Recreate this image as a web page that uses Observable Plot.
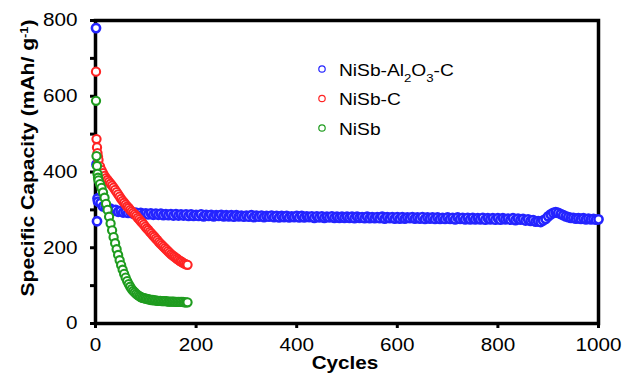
<!DOCTYPE html>
<html>
<head>
<meta charset="utf-8">
<script src="https://cdn.jsdelivr.net/npm/d3@7"></script>
<script src="https://cdn.jsdelivr.net/npm/@observablehq/plot@0.6"></script>
<style>
  html, body { margin: 0; padding: 0; background: white; }
  #chart { width: 627px; height: 374px; }
</style>
</head>
<body>
<div id="chart"></div>
<script>
// ---- tick labels ----
const xTicks = [0, 200, 400, 600, 800, 1000];
const yTicks = [0, 200, 400, 600, 800];
const yMinorTicks = [100, 300, 500, 700];

// ---- series names ----
const seriesNames = ["NiSb-Al2O3-C", "NiSb-C", "NiSb"];

// ---- NiSb-Al2O3-C (blue) ----
const blueCycles = [1, 2, 3, 4, 5, ...d3.range(10, 1001, 5)];
const blueCapacity = [
  780, 420, 270, 330, 322,
  318,309,308,302,303,298,300,295,297,293,295,292,294,290,293,289,292,288,291,
  288,291,287,290,287,290,286,289,286,289,285,289,285,288,285,288,284,288,284,287,
  284,288,283,287,284,287,283,286,284,287,283,286,283,286,282,286,283,285,282,285,
  282,286,281,285,282,285,281,284,282,285,281,284,280,284,281,284,280,283,281,284,
  280,284,280,283,281,283,279,283,280,283,279,282,280,283,279,282,279,282,279,282,
  279,282,278,282,279,281,278,282,278,281,278,281,278,282,277,281,278,281,277,281,
  277,281,277,280,278,281,277,280,277,281,276,280,277,280,276,280,276,279,276,280,
  276,279,275,280,276,279,275,279,275,279,275,278,275,279,274,278,275,278,274,278,
  274,278,275,277,274,278,273,277,274,276,272,275,271,273,269,270,268,272,276,283,
  288,292,294,292,289,286,283,281,279,279,277,278,276,278,275,277,275,276,274,275
];

// ---- NiSb-C (red) ----
const redCycles = [1, 2, 3, 4, 5, ...d3.range(6, 184, 3)];
const redCapacity = [
  665, 487, 465, 450, 440,
  432,415,405,397,390,384,379,374,369,364,
  359,353,347,341,335,329,324,319,314,309,
  305,300,296,292,288,284,279,275,270,266,
  261,256,251,247,242,238,233,229,224,220,
  215,211,207,203,199,195,191,187,183,180,
  177,174,171,168,165,163,160,158,156,155
];

// ---- NiSb (green) ----
const greenCycles = [1, 2, 3, 4, 5, ...d3.range(6, 184, 3)];
const greenCapacity = [
  588, 442, 416, 395, 385,
  378,368,358,346,332,316,300,282,264,246,
  228,212,196,181,167,154,142,131,121,112,
  104,97,91,86,82,78,75,72,70,68,
  67,66,65,64,63,62,62,61,61,60,
  60,60,59,59,59,59,58,58,58,58,
  58,57,57,57,57,57,57,56,56,56
];

const colors = ["#2424ff", "#ff2424", "#1f9c1f"];

function toRows(cycles, caps) {
  const n = Math.min(cycles.length, caps.length);
  return d3.range(n).map(i => ({cycle: cycles[i], cap: caps[i]}));
}
const blueData = toRows(blueCycles, blueCapacity);
const redData = toRows(redCycles, redCapacity);
const greenData = toRows(greenCycles, greenCapacity);

const dotOpts = (c, sw) => ({x: "cycle", y: "cap", r: 4.1, stroke: c, fill: "white", strokeWidth: sw});

const plot = Plot.plot({
  width: 627,
  height: 374,
  marginLeft: 95,
  marginRight: 29,
  marginTop: 20,
  marginBottom: 51,
  x: {domain: [0, 1000]},
  y: {domain: [0, 800]},
  style: {fontFamily: "'Liberation Sans', Arial, sans-serif", fontSize: "18px", color: "black", background: "white"},
  marks: [
    Plot.axisX({ticks: xTicks, tickFormat: d => String(d), tickSize: 5, tickPadding: 10, label: null, strokeWidth: 3, fontSize: 18}),
    Plot.axisY({ticks: yTicks, tickFormat: d => String(d), tickSize: 5, tickPadding: 13, label: null, strokeWidth: 3, fontSize: 18}),
    Plot.axisY({ticks: yMinorTicks, tickSize: 5, tickFormat: () => "", label: null, strokeWidth: 3}),
    Plot.frame({stroke: "black", strokeWidth: 3.5}),
    Plot.dot(blueData, dotOpts(colors[0], 2.6)),
    Plot.dot(redData, dotOpts(colors[1], 2.1)),
    Plot.dot(greenData, dotOpts(colors[2], 2.1))
  ]
});

document.getElementById("chart").appendChild(plot);

const svg = d3.select(plot);
// horizontal stretch of tick labels to match reference typeface width
svg.selectAll('g[aria-label="x-axis tick label"] text, g[aria-label="y-axis tick label"] text')
  .attr("transform", function () { return (this.getAttribute("transform") || "") + " scale(1.15,1)"; });

const font = "'Liberation Sans', Arial, sans-serif";

// x-axis title
svg.append("text")
  .attr("transform", "translate(345,369) scale(1.15,1)")
  .attr("text-anchor", "middle")
  .attr("font-family", font).attr("font-weight", "bold").attr("font-size", 18)
  .attr("fill", "black")
  .text("Cycles");

// y-axis title
const yt = svg.append("text")
  .attr("transform", "translate(34,158) rotate(-90) scale(1.17,1)")
  .attr("text-anchor", "middle")
  .attr("font-family", font).attr("font-weight", "bold").attr("font-size", 18)
  .attr("fill", "black");
yt.append("tspan").text("Specific Capacity (mAh/ g");
yt.append("tspan").attr("baseline-shift", "super").attr("font-size", 11).text("-1");
yt.append("tspan").attr("baseline-shift", "0").text(")");

// legend
const legendRows = [
  {parts: [["NiSb-Al", false], ["2", true], ["O", false], ["3", true], ["-C", false]], color: colors[0]},
  {parts: [[seriesNames[1], false]], color: colors[1]},
  {parts: [[seriesNames[2], false]], color: colors[2]}
];
const legendY = [69, 98.5, 128];
legendRows.forEach((row, i) => {
  svg.append("circle")
    .attr("cx", 322).attr("cy", legendY[i]).attr("r", 3.2)
    .attr("fill", "white").attr("stroke", row.color).attr("stroke-width", 1.2);
  const t = svg.append("text")
    .attr("transform", `translate(339,${legendY[i] + 6.5}) scale(1.2,1)`)
    .attr("text-anchor", "start")
    .attr("font-family", font).attr("font-size", 16).attr("fill", "black");
  row.parts.forEach(([s, sub]) => {
    const ts = t.append("tspan").text(s);
    if (sub) ts.attr("baseline-shift", "sub").attr("font-size", 11);
  });
});
</script>
</body>
</html>
